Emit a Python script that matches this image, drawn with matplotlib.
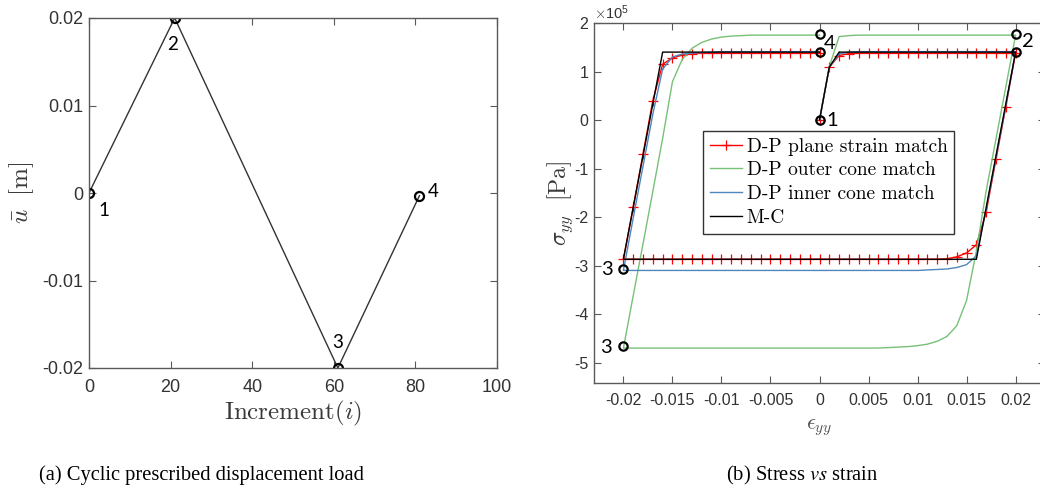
import numpy as np
import matplotlib.pyplot as plt

plt.rcParams['axes.unicode_minus'] = False
plt.rcParams['font.family'] = ['Liberation Sans', 'DejaVu Sans']
plt.rcParams['mathtext.fontset'] = 'cm'

# ---- (a) prescribed displacement path ----
increment = [0, 21, 61, 81]
u_bar = [0.0, 0.02, -0.02, -0.0003]
load_names = ['1', '2', '3', '4']
a_xticks = [0, 20, 40, 60, 80, 100]
a_yticks = [-0.02, -0.01, 0, 0.01, 0.02]
a_yticklabels = ['-0.02', '-0.01', '0', '0.01', '0.02']

# ---- (b) stress vs strain (stress in 1e5 Pa) ----
strain = [
    0.000, 0.001, 0.002, 0.003, 0.004, 0.005, 0.006, 0.007, 0.008, 0.009, 0.010,
    0.011, 0.012, 0.013, 0.014, 0.015, 0.016, 0.017, 0.018, 0.019, 0.020,
    0.019, 0.018, 0.017, 0.016, 0.015, 0.014, 0.013, 0.012, 0.011, 0.010,
    0.009, 0.008, 0.007, 0.006, 0.005, 0.004, 0.003, 0.002, 0.001, 0.000,
    -0.001, -0.002, -0.003, -0.004, -0.005, -0.006, -0.007, -0.008, -0.009, -0.010,
    -0.011, -0.012, -0.013, -0.014, -0.015, -0.016, -0.017, -0.018, -0.019, -0.020,
    -0.019, -0.018, -0.017, -0.016, -0.015, -0.014, -0.013, -0.012, -0.011, -0.010,
    -0.009, -0.008, -0.007, -0.006, -0.005, -0.004, -0.003, -0.002, -0.001, 0.000,
]
# D-P plane strain match
s_plane = [
    0.00, 1.09, 1.33, 1.37, 1.38, 1.38, 1.38, 1.38, 1.38, 1.38, 1.38,
    1.38, 1.38, 1.38, 1.38, 1.38, 1.38, 1.38, 1.38, 1.38, 1.38,
    0.27, -0.81, -1.90, -2.57, -2.74, -2.82, -2.86, -2.87, -2.87, -2.87,
    -2.87, -2.87, -2.87, -2.87, -2.87, -2.87, -2.87, -2.87, -2.87, -2.87,
    -2.87, -2.87, -2.87, -2.87, -2.87, -2.87, -2.87, -2.87, -2.87, -2.87,
    -2.87, -2.87, -2.87, -2.87, -2.87, -2.87, -2.87, -2.87, -2.87, -2.87,
    -1.79, -0.70, 0.40, 1.15, 1.28, 1.34, 1.37, 1.38, 1.38, 1.38,
    1.38, 1.38, 1.38, 1.38, 1.38, 1.38, 1.38, 1.38, 1.38, 1.38,
]
# D-P outer cone match
s_outer = [
    0.00, 1.10, 1.72, 1.74, 1.75, 1.75, 1.75, 1.75, 1.75, 1.75, 1.75,
    1.75, 1.75, 1.75, 1.75, 1.75, 1.75, 1.75, 1.75, 1.75, 1.75,
    0.68, -0.39, -1.46, -2.70, -3.72, -4.24, -4.46, -4.56, -4.62, -4.65,
    -4.67, -4.68, -4.69, -4.70, -4.70, -4.70, -4.70, -4.70, -4.70, -4.70,
    -4.70, -4.70, -4.70, -4.70, -4.70, -4.70, -4.70, -4.70, -4.70, -4.70,
    -4.70, -4.70, -4.70, -4.70, -4.70, -4.70, -4.70, -4.70, -4.70, -4.70,
    -3.62, -2.55, -1.47, -0.38, 0.79, 1.25, 1.48, 1.60, 1.67, 1.71,
    1.73, 1.74, 1.75, 1.75, 1.75, 1.75, 1.75, 1.75, 1.75, 1.75,
]
# D-P inner cone match
s_inner = [
    0.00, 1.09, 1.36, 1.40, 1.41, 1.41, 1.41, 1.41, 1.41, 1.41, 1.41,
    1.41, 1.41, 1.41, 1.41, 1.41, 1.41, 1.41, 1.41, 1.41, 1.41,
    0.30, -0.77, -1.84, -2.80, -2.98, -3.04, -3.07, -3.08, -3.09, -3.10,
    -3.10, -3.10, -3.10, -3.10, -3.10, -3.10, -3.10, -3.10, -3.10, -3.10,
    -3.10, -3.10, -3.10, -3.10, -3.10, -3.10, -3.10, -3.10, -3.10, -3.10,
    -3.10, -3.10, -3.10, -3.10, -3.10, -3.10, -3.10, -3.10, -3.10, -3.10,
    -2.02, -0.95, 0.12, 1.05, 1.30, 1.36, 1.38, 1.39, 1.40, 1.41,
    1.41, 1.41, 1.41, 1.41, 1.41, 1.41, 1.41, 1.41, 1.41, 1.41,
]
# M-C
mc_strain = [0.0, 0.001, 0.002, 0.020, 0.016, -0.020, -0.016, 0.0]
mc_stress = [0.0, 1.09, 1.40, 1.40, -2.87, -2.87, 1.40, 1.40]

# marked states
pt_strain = [0.0, 0.0, 0.0, 0.02, 0.02, -0.02, -0.02]
pt_stress = [0.0, 1.77, 1.40, 1.77, 1.40, -3.08, -4.65]
pt_names = ['1', '4', '', '2', '', '3', '3']

b_xticks = [-0.02, -0.015, -0.01, -0.005, 0, 0.005, 0.01, 0.015, 0.02]
b_xticklabels = ['-0.02', '-0.015', '-0.01', '-0.005', '0', '0.005', '0.01', '0.015', '0.02']
b_yticks = [-5, -4, -3, -2, -1, 0, 1, 2]
b_yticklabels = ['-5', '-4', '-3', '-2', '-1', '0', '1', '2']

legend_names = ['D-P plane strain match', 'D-P outer cone match',
                'D-P inner cone match', 'M-C']

axis_grey = '#5a5a5a'
text_grey = '#333333'

fig = plt.figure(figsize=(10.4, 5), dpi=100)


def style_axes(ax, size):
    for sp in ax.spines.values():
        sp.set_color(axis_grey)
        sp.set_linewidth(1.0)
    ax.tick_params(direction='in', top=True, right=True, length=5,
                   color=axis_grey, labelcolor=text_grey, labelsize=size)


# ---------- panel (a) ----------
ax1 = fig.add_axes([89 / 1040, 1 - 368 / 500, 408 / 1040, 350 / 500])
ax1.plot(increment, u_bar, color='#333333', lw=1.0)
ax1.plot(increment, u_bar, 'o', ms=6.5, mfc='none', mec='black', mew=1.6)
a_offsets = [(15, -18), (-2, -27), (0, 25), (14, 4)]
for xi, yi, name, off in zip(increment, u_bar, load_names, a_offsets):
    ax1.annotate(name, (xi, yi), xytext=off, textcoords='offset pixels',
                 ha='center', va='center', fontsize=13.5, family='Lato')
ax1.set_xlim(0, 100)
ax1.set_ylim(-0.02, 0.02)
ax1.set_xticks(a_xticks)
ax1.set_yticks(a_yticks)
ax1.set_yticklabels(a_yticklabels)
style_axes(ax1, 13)
ax1.tick_params(axis='x', pad=8)
ax1.tick_params(axis='y', pad=4)
ax1.set_xlabel(r'$\mathrm{Increment}(i)$', fontsize=18, color='#3a3a3a', va='center')
ax1.xaxis.set_label_coords(0.5, -0.131)
ax1.set_ylabel(r'$\bar{u}\ \ [\mathrm{m}]$', fontsize=18, color='#3a3a3a', va='center')
ax1.yaxis.set_label_coords(-0.164, 0.5)

# ---------- panel (b) ----------
ax2 = fig.add_axes([594 / 1040, 1 - 383 / 500, 451 / 1040, 360 / 500])
ax2.plot(strain, s_plane, color='red', lw=1.0, marker='+', ms=6.5, mew=0.9,
         label=legend_names[0])
ax2.plot(strain, s_outer, color='#77c177', lw=1.0, label=legend_names[1])
ax2.plot(strain, s_inner, color='#4f86bd', lw=1.0, label=legend_names[2])
ax2.plot(mc_strain, mc_stress, color='black', lw=1.0, label=legend_names[3])
ax2.plot(pt_strain, pt_stress, 'o', ms=6, mfc='none', mec='black', mew=1.6)
b_offsets = [(13, 0), (10, -9), (0, 0), (12, -7), (0, 0), (-16, 0), (-17, -2)]
for xi, yi, name, off in zip(pt_strain, pt_stress, pt_names, b_offsets):
    if name:
        ax2.annotate(name, (xi, yi), xytext=off, textcoords='offset pixels',
                     ha='center', va='center', fontsize=14.5, family='Lato')
ax2.set_xlim(-0.023, 0.023)
ax2.set_ylim(-5.42, 2.0)
ax2.set_xticks(b_xticks)
ax2.set_xticklabels(b_xticklabels)
ax2.set_yticks(b_yticks)
ax2.set_yticklabels(b_yticklabels)
style_axes(ax2, 11.5)
ax2.tick_params(axis='x', pad=7)
ax2.tick_params(axis='y', pad=4)
ax2.text(0.0, 1.004, r'$\times\mathdefault{10^{5}}$', transform=ax2.transAxes,
         ha='left', va='bottom', fontsize=10.5, color=text_grey)
ax2.set_xlabel(r'$\epsilon_{yy}$', fontsize=16, color='#555555', va='center')
ax2.xaxis.set_label_coords(0.5, -0.125)
ax2.set_ylabel(r'$\sigma_{yy}\ \ [\mathrm{Pa}]$', fontsize=17, color='#3a3a3a', va='center')
ax2.yaxis.set_label_coords(-0.075, 0.5)

leg = ax2.legend(loc='upper left', bbox_to_anchor=(703 / 1040, 1 - 130.7 / 500),
                 bbox_transform=fig.transFigure, borderaxespad=0, fancybox=False,
                 framealpha=1, edgecolor='#333333', handlelength=1.65,
                 handletextpad=0.25, labelspacing=0.3, borderpad=0.35,
                 prop={'family': 'cmr10', 'size': 14})
leg.get_frame().set_linewidth(1.0)

# captions
fig.text(201 / 1040, 1 - 475 / 500, '(a) Cyclic prescribed displacement load',
         ha='center', va='center', fontsize=14.8, family='Liberation Serif')
fig.text(802 / 1040, 1 - 475 / 500, r'(b) Stress $\mathit{vs}$ strain',
         ha='center', va='center', fontsize=14.8, family='Liberation Serif',
         math_fontfamily='stix')

fig.savefig('out.png', dpi=100)
